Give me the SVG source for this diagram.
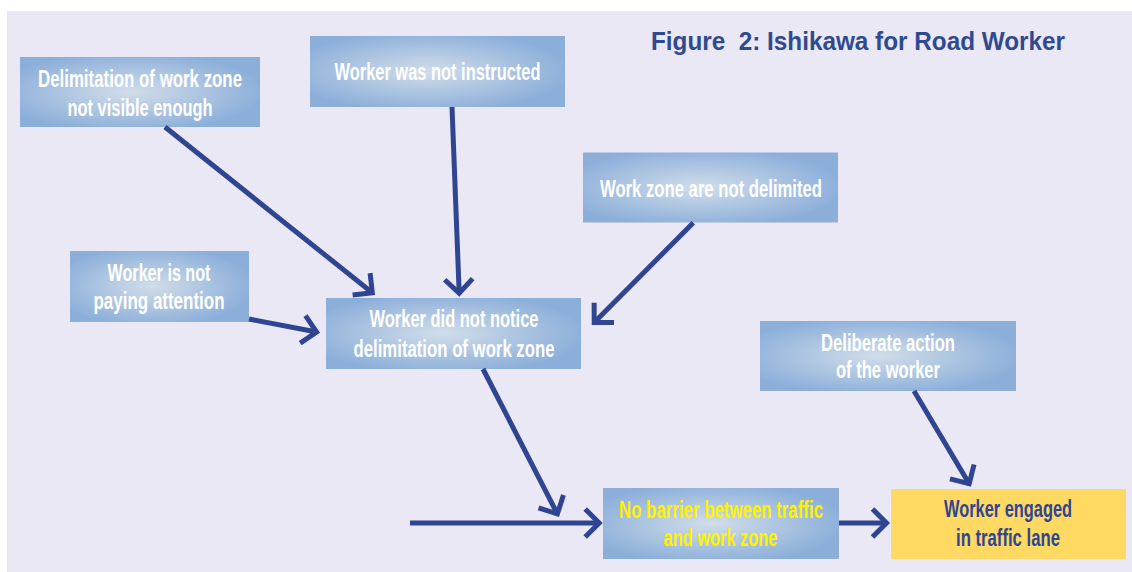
<svg xmlns="http://www.w3.org/2000/svg" width="1132" height="572" viewBox="0 0 1132 572">
  <style>
    .box { fill: url(#boxFill); }
    .effect { fill: #ffd962; }
    .lbl { font-family: "Liberation Sans", Arial, sans-serif; font-weight: bold; font-size: 23px; fill: #ffffff; text-anchor: middle; }
    .lbl.warn { fill: #fff200; }
    .lbl.dark { fill: #2f4592; }
    .title { font-family: "Liberation Sans", Arial, sans-serif; font-weight: bold; font-size: 25px; fill: #2f4a8f; }
    .link { fill: none; stroke: #2f4591; stroke-width: 5; marker-end: url(#chevron); }
  </style>
  <defs>
    <radialGradient id="boxFill" cx="0.46" cy="0.5" r="0.56">
      <stop offset="0" stop-color="#d1dde9"/>
      <stop offset="1" stop-color="#8cafda"/>
    </radialGradient>
    <marker id="chevron" markerUnits="userSpaceOnUse" viewBox="-20 -20 30 40" refX="0" refY="0" markerWidth="30" markerHeight="40" orient="auto" overflow="visible">
      <path d="M-14,-14 L0,0 L-14,14" fill="none" stroke="#2f4591" stroke-width="5" stroke-linejoin="miter"/>
    </marker>
  </defs>

  <!-- page panel -->
  <rect x="0" y="0" width="1132" height="572" fill="#ffffff"/>
  <rect x="7" y="11" width="1125" height="561" fill="#eae8f4"/>

  <text class="title" x="651" y="49.5" textLength="414" lengthAdjust="spacingAndGlyphs" xml:space="preserve">Figure  2: Ishikawa for Road Worker</text>

  <!-- cause boxes -->
  <g id="visibility">
    <rect class="box" x="20" y="57" width="240" height="70"/>
    <text class="lbl" x="140" y="87.3" textLength="204" lengthAdjust="spacingAndGlyphs">Delimitation of work zone</text>
    <text class="lbl" x="140" y="115.7" textLength="145" lengthAdjust="spacingAndGlyphs">not visible enough</text>
  </g>
  <g id="instruction">
    <rect class="box" x="310" y="36" width="255" height="71"/>
    <text class="lbl" x="437.5" y="80" textLength="206" lengthAdjust="spacingAndGlyphs">Worker was not instructed</text>
  </g>
  <g id="delimitation">
    <rect class="box" x="583" y="152.5" width="255" height="70"/>
    <text class="lbl" x="711" y="196.5" textLength="222" lengthAdjust="spacingAndGlyphs">Work zone are not delimited</text>
  </g>
  <g id="attention">
    <rect class="box" x="70" y="251" width="179" height="71"/>
    <text class="lbl" x="159" y="280.7" textLength="103" lengthAdjust="spacingAndGlyphs">Worker is not</text>
    <text class="lbl" x="159" y="309" textLength="131" lengthAdjust="spacingAndGlyphs">paying attention</text>
  </g>
  <g id="notice">
    <rect class="box" x="326" y="298" width="255" height="71"/>
    <text class="lbl" x="454" y="327.3" textLength="169" lengthAdjust="spacingAndGlyphs">Worker did not notice</text>
    <text class="lbl" x="454" y="356.7" textLength="201" lengthAdjust="spacingAndGlyphs">delimitation of work zone</text>
  </g>
  <g id="deliberate">
    <rect class="box" x="760" y="321" width="256" height="70"/>
    <text class="lbl" x="888" y="350.7" textLength="134" lengthAdjust="spacingAndGlyphs">Deliberate action</text>
    <text class="lbl" x="888" y="378" textLength="104" lengthAdjust="spacingAndGlyphs">of the worker</text>
  </g>
  <g id="barrier">
    <rect class="box" x="603" y="488" width="236" height="71"/>
    <text class="lbl warn" x="721" y="517.7" textLength="204" lengthAdjust="spacingAndGlyphs">No barrier between traffic</text>
    <text class="lbl warn" x="720.5" y="545.7" textLength="114" lengthAdjust="spacingAndGlyphs">and work zone</text>
  </g>
  <g id="engaged">
    <rect class="effect" x="891" y="489" width="235" height="70"/>
    <text class="lbl dark" x="1008" y="516.7" textLength="128" lengthAdjust="spacingAndGlyphs">Worker engaged</text>
    <text class="lbl dark" x="1008" y="546" textLength="104" lengthAdjust="spacingAndGlyphs">in traffic lane</text>
  </g>

  <!-- connectors -->
  <g id="connectors">
    <path class="link" d="M165,127 L372.3,292.8"/>
    <path class="link" d="M452,107 L459.2,293.2"/>
    <path class="link" d="M693.3,222.7 L594.2,322.5"/>
    <path class="link" d="M249,319 L316.6,332"/>
    <path class="link" d="M483,369 L557.4,513.9"/>
    <path class="link" d="M410,523 L599.2,523"/>
    <path class="link" d="M839,523 L886.5,523"/>
    <path class="link" d="M914,391 L969.2,483.7"/>
  </g>
</svg>
